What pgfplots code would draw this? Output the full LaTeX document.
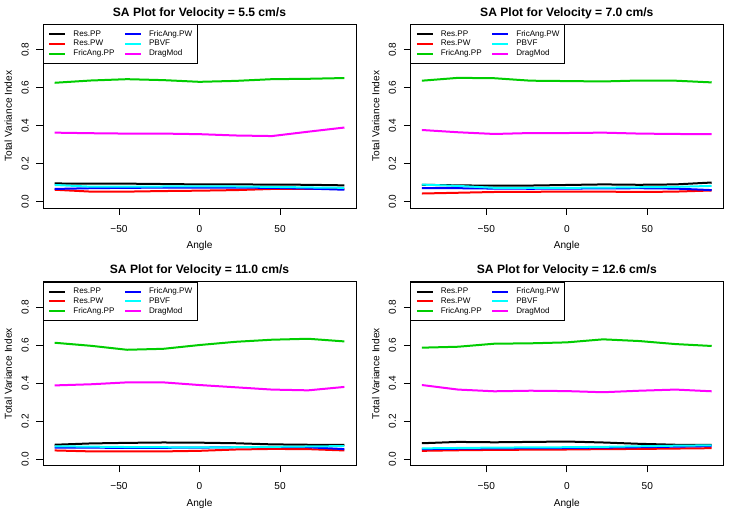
\documentclass[border=0pt]{standalone}
\usepackage{fontspec}
\setmainfont{Liberation Sans}
\usepackage{pgfplots}
\usepackage{pgfplotstable}
\pgfplotsset{compat=1.18}
\definecolor{rgreen}{HTML}{00CD00}
\definecolor{rred}{HTML}{FF0000}
\definecolor{rblue}{HTML}{0000FF}
\definecolor{rcyan}{HTML}{00FFFF}
\definecolor{rmag}{HTML}{FF00FF}

\pgfplotstableread{
x ResPP ResPW FricPP FricPW PBVF Drag
-90   0.095 0.062 0.626 0.066 0.087 0.363
-67.5 0.094 0.052 0.638 0.070 0.078 0.360
-45   0.094 0.052 0.645 0.072 0.078 0.358
-22.5 0.092 0.055 0.640 0.073 0.079 0.358
0     0.090 0.057 0.631 0.073 0.080 0.355
22.5  0.090 0.060 0.636 0.073 0.079 0.348
45    0.089 0.066 0.645 0.072 0.077 0.345
67.5  0.088 0.067 0.647 0.068 0.074 0.368
90    0.085 0.066 0.651 0.062 0.072 0.390
}\tabA

\pgfplotstableread{
x ResPP ResPW FricPP FricPW PBVF Drag
-90   0.088 0.042 0.637 0.070 0.089 0.377
-67.5 0.085 0.046 0.652 0.070 0.082 0.365
-45   0.083 0.050 0.650 0.068 0.072 0.356
-22.5 0.084 0.051 0.637 0.067 0.072 0.361
0     0.087 0.052 0.635 0.068 0.072 0.361
22.5  0.090 0.052 0.633 0.069 0.073 0.363
45    0.088 0.050 0.638 0.070 0.075 0.358
67.5  0.090 0.052 0.637 0.068 0.077 0.356
90    0.100 0.058 0.628 0.060 0.082 0.355
}\tabB

\pgfplotstableread{
x ResPP ResPW FricPP FricPW PBVF Drag
-90   0.075 0.045 0.613 0.060 0.067 0.388
-67.5 0.082 0.040 0.597 0.060 0.065 0.394
-45   0.085 0.040 0.576 0.058 0.063 0.404
-22.5 0.087 0.040 0.581 0.059 0.062 0.404
0     0.086 0.043 0.601 0.060 0.061 0.390
22.5  0.083 0.050 0.618 0.062 0.062 0.378
45    0.077 0.053 0.629 0.062 0.064 0.366
67.5  0.075 0.052 0.634 0.062 0.066 0.362
90    0.075 0.045 0.620 0.052 0.068 0.380
}\tabC

\pgfplotstableread{
x ResPP ResPW FricPP FricPW PBVF Drag
-90   0.083 0.043 0.587 0.052 0.056 0.390
-67.5 0.090 0.046 0.592 0.054 0.058 0.366
-45   0.088 0.048 0.608 0.056 0.060 0.357
-22.5 0.090 0.049 0.610 0.057 0.061 0.360
0     0.092 0.050 0.615 0.058 0.062 0.358
22.5  0.087 0.052 0.631 0.060 0.064 0.352
45    0.080 0.053 0.622 0.062 0.067 0.360
67.5  0.075 0.055 0.606 0.065 0.070 0.366
90    0.075 0.057 0.596 0.068 0.072 0.357
}\tabD

\pgfplotsset{
  sapanel/.style={
    scale only axis, width=313pt, height=184.3pt,
    anchor=south west,
    xmin=-97.2, xmax=97.2, ymin=-0.036, ymax=0.936,
    axis line style={line width=0.9pt},
    every tick/.style={line width=0.9pt, black},
    tick align=outside, major tick length=6.5pt,
    xtick={-50,0,50}, xticklabels={−50,0,50},
    ytick={0,0.2,0.4,0.6,0.8}, yticklabels={0.0,0.2,0.4,0.6,0.8},
    xtick pos=left, ytick pos=left,
    /pgf/number format/assume math mode=true,
    tick label style={font=\fontsize{10.1}{12}\selectfont, inner sep=0pt},
    xticklabel style={anchor=base},
    xticklabel shift=17.5pt,
    yticklabel style={rotate=90, anchor=base},
    yticklabel shift=7.9pt,
    title style={at={(axis description cs:0.5,1)}, anchor=base, yshift=1.8pt,
      font=\bfseries\fontsize{12.1}{14}\selectfont, inner sep=0pt},
    xlabel={Angle}, ylabel={Total Variance Index},
    label style={font=\fontsize{10.1}{12}\selectfont, inner sep=0pt},
    xlabel style={at={([yshift=-40.3pt]axis description cs:0.5,0)}, anchor=base},
    ylabel style={at={([xshift=-31pt]axis description cs:0,0.5)}, anchor=base},
    no markers,
    every axis plot/.append style={line width=2pt},
    legend columns=3, transpose legend,
    legend cell align=left,
    legend image code/.code={\draw[#1] (0pt,0pt) -- (16pt,0pt);},
    legend style={at={(axis description cs:0,1)}, anchor=north west,
      draw=black, line width=0.9pt, fill=white,
      inner xsep=5pt, inner ysep=5.75pt, row sep=1.9pt,
      font=\fontsize{8.1}{9.8}\selectfont,
      nodes={inner xsep=0pt, inner ysep=0pt, text height=6pt, text depth=1.8pt},
      /tikz/every odd column/.append style={column sep=7pt},
      /tikz/every even column/.append style={column sep=9.6pt}},
  }
}

\newcommand{\saplots}[1]{%
  \addplot[color=black] table[x=x,y=ResPP]{#1};
  \addlegendentry{Res.PP}
  \addplot[color=rred] table[x=x,y=ResPW]{#1};
  \addlegendentry{Res.PW}
  \addplot[color=rgreen] table[x=x,y=FricPP]{#1};
  \addlegendentry{FricAng.PP}
  \addplot[color=rblue] table[x=x,y=FricPW]{#1};
  \addlegendentry{FricAng.PW}
  \addplot[color=rcyan] table[x=x,y=PBVF]{#1};
  \addlegendentry{PBVF}
  \addplot[color=rmag] table[x=x,y=Drag]{#1};
  \addlegendentry{DragMod}
}

\begin{document}
\begin{tikzpicture}
\fill[white] (0,0) rectangle (735pt,515pt);
\useasboundingbox (0,0) rectangle (735pt,515pt);
\begin{axis}[sapanel, at={(43pt,306.7pt)}, title={SA Plot for Velocity = 5.5 cm/s}]
\saplots{\tabA}
\end{axis}
\begin{axis}[sapanel, at={(410.3pt,306.7pt)}, title={SA Plot for Velocity = 7.0 cm/s}]
\saplots{\tabB}
\end{axis}
\begin{axis}[sapanel, at={(43pt,49.2pt)}, title={SA Plot for Velocity = 11.0 cm/s}]
\saplots{\tabC}
\end{axis}
\begin{axis}[sapanel, at={(410.3pt,49.2pt)}, title={SA Plot for Velocity = 12.6 cm/s}]
\saplots{\tabD}
\end{axis}
\end{tikzpicture}
\end{document}
